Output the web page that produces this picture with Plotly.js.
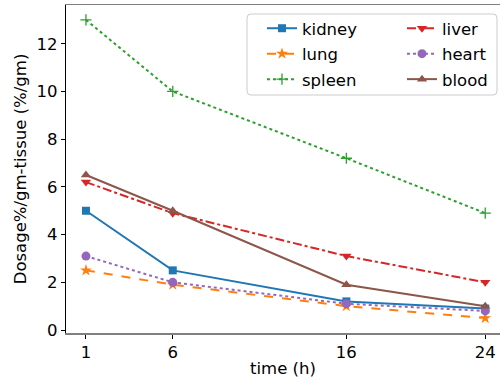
<!DOCTYPE html>
<html>
<head>
<meta charset="utf-8">
<script src="https://cdn.plot.ly/plotly-3.0.1.min.js"></script>
<style>html,body{margin:0;padding:0;background:#fff;}#chart{width:500px;height:381px;}</style>
</head>
<body>
<div id="chart"></div>
<script>
const timeH = [1, 6, 16, 24];
const kidney = [5.0, 2.5, 1.2, 0.9];
const lung = [2.5, 1.9, 1.0, 0.5];
const spleen = [13.0, 10.0, 7.2, 4.9];
const liver = [6.2, 4.9, 3.1, 2.0];
const heart = [3.1, 2.0, 1.1, 0.8];
const blood = [6.5, 5.0, 1.9, 1.0];
const xTickVals = [1, 6, 16, 24];
const yTickVals = [0, 2, 4, 6, 8, 10, 12];

const FONT = 'DejaVu Sans';
const FS = 16.5;

function tr(name, y, color, dash, symbol, msize, legend, extra) {
  return Object.assign({
    x: timeH, y: y, name: name, type: 'scatter', mode: 'lines+markers',
    line: {color: color, width: 2, dash: dash},
    marker: {color: color, symbol: symbol, size: msize},
    legend: legend, legendgroup: name
  }, extra || {});
}

const data = [
  tr('kidney', kidney, '#1f77b4', 'solid', 'square', 8, 'legend'),
  tr('lung', lung, '#ff7f0e', 'dash', 'star', 9, 'legend'),
  tr('spleen', spleen, '#2ca02c', 'dot', 'cross-thin', 8, 'legend',
     {marker: {color: '#2ca02c', symbol: 'cross-thin', size: 8, line: {color: '#2ca02c', width: 1.3}}}),
  tr('liver', liver, '#d62728', 'dashdot', 'triangle-down', 9, 'legend2'),
  tr('heart', heart, '#9467bd', 'dot', 'circle', 9, 'legend2'),
  tr('blood', blood, '#8c564b', 'solid', 'triangle-up', 9, 'legend2')
];

const W = 500, H = 381, ML = 66, MR = 0, MT = 5, MB = 48;
const pw = W - ML - MR, ph = H - MT - MB;
function px(x) { return (x - ML) / pw; }
function py(y) { return (H - MB - y) / ph; }

// rounded legend frame
const bx0 = px(247), bx1 = px(497), by0 = py(95), by1 = py(14);
const rx = 4 / pw, ry = 4 / ph;
const framePath = `M ${bx0 + rx} ${by1} L ${bx1 - rx} ${by1} Q ${bx1} ${by1} ${bx1} ${by1 - ry} ` +
  `L ${bx1} ${by0 + ry} Q ${bx1} ${by0} ${bx1 - rx} ${by0} L ${bx0 + rx} ${by0} ` +
  `Q ${bx0} ${by0} ${bx0} ${by0 + ry} L ${bx0} ${by1 - ry} Q ${bx0} ${by1} ${bx0 + rx} ${by1} Z`;

const legendCommon = {
  bgcolor: 'rgba(0,0,0,0)', borderwidth: 0, font: {family: FONT, size: FS, color: '#000'},
  orientation: 'v', yanchor: 'top', xanchor: 'left', tracegroupgap: 1,
  itemsizing: 'trace', itemwidth: 30
};

const layout = {
  width: W, height: H,
  margin: {l: ML, r: MR, t: MT, b: MB, pad: 0},
  paper_bgcolor: '#fff', plot_bgcolor: '#fff',
  font: {family: FONT, size: FS, color: '#000'},
  showlegend: true,
  xaxis: {
    range: [-0.15, 24.85], tickmode: 'array', tickvals: xTickVals,
    ticks: 'outside', ticklen: 4, tickwidth: 1, tickcolor: '#000',
    showgrid: false, zeroline: false,
    showline: true, linecolor: '#808080', linewidth: 1.5, mirror: true,
    tickfont: {family: FONT, size: FS, color: '#000'},
    title: {text: 'time (h)', font: {family: FONT, size: FS, color: '#000'}, standoff: 1}
  },
  yaxis: {
    range: [-0.125, 13.625], tickmode: 'array', tickvals: yTickVals,
    ticks: 'outside', ticklen: 4, tickwidth: 1, tickcolor: '#000',
    showgrid: false, zeroline: false,
    showline: true, linecolor: '#000', linewidth: 1.2,
    tickfont: {family: FONT, size: FS, color: '#000'},
    title: {text: 'Dosage%/gm-tissue (%/gm)', font: {family: FONT, size: FS, color: '#000'}, standoff: 5}
  },
  legend: Object.assign({}, legendCommon, {x: px(262), y: py(11)}),
  legend2: Object.assign({}, legendCommon, {x: px(402), y: py(11)}),
  shapes: [{
    type: 'path', xref: 'paper', yref: 'paper', path: framePath, layer: 'above',
    fillcolor: 'rgba(255,255,255,0.8)', line: {color: '#cccccc', width: 1}
  }]
};

Plotly.newPlot('chart', data, layout, {displayModeBar: false, staticPlot: true});
</script>
</body>
</html>
